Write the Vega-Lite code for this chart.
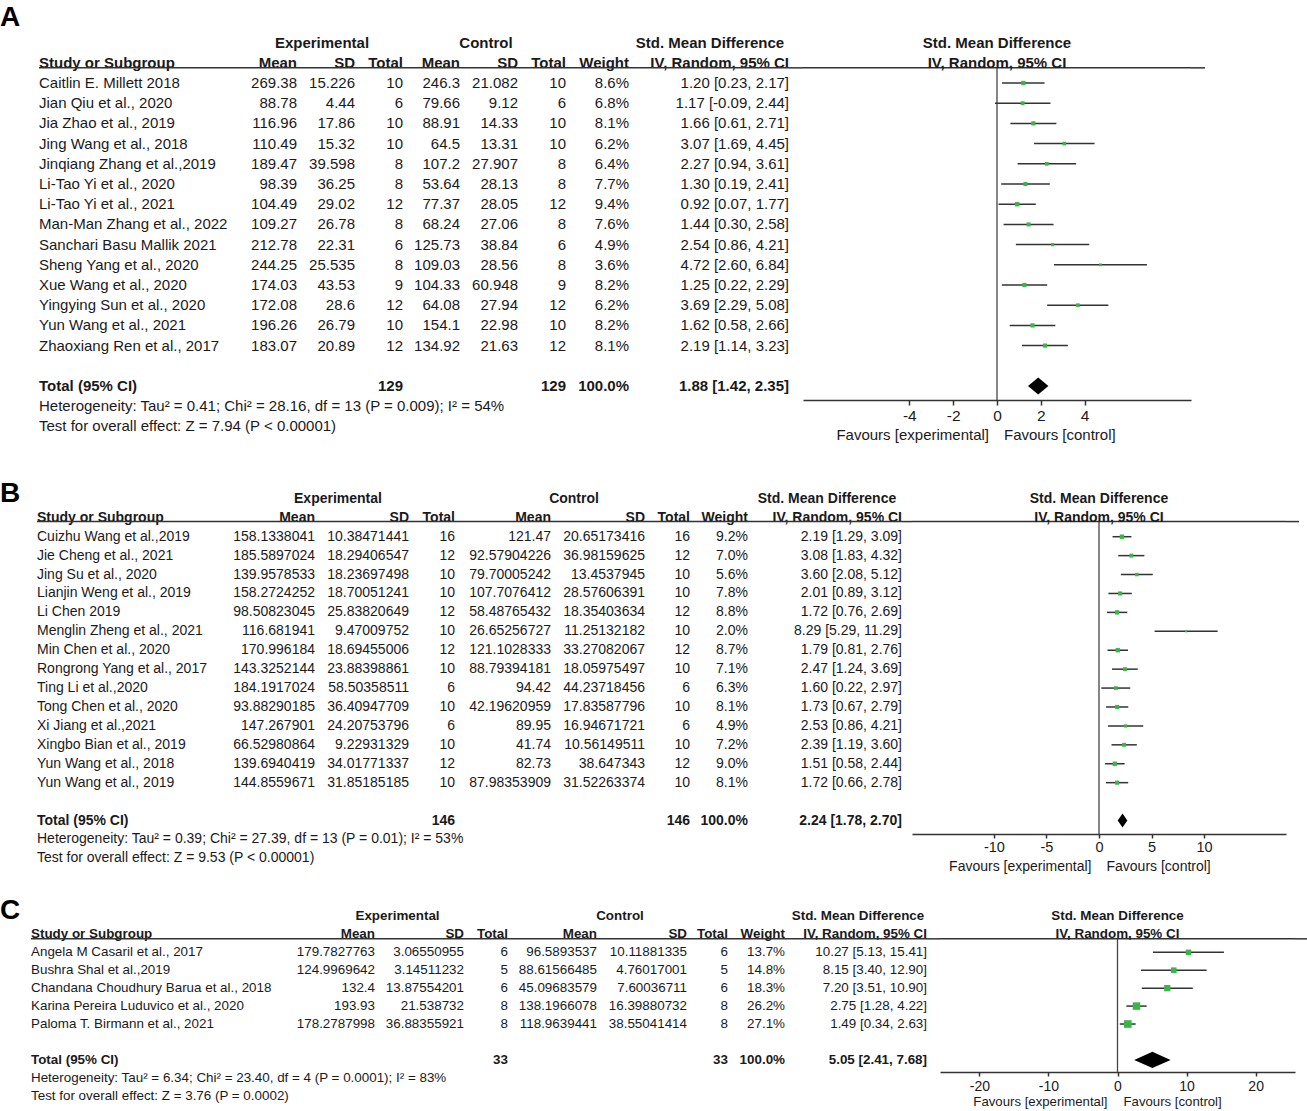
{
"$schema": "https://vega.github.io/schema/vega-lite/v6.json",
"padding": 0,
"background": "white",
"spacing": 0,
"config": {
  "view": {"stroke": null},
  "text": {"font": "Liberation Sans", "color": "#1a1a1a", "baseline": "middle"},
  "axis": {"labelFont": "Liberation Sans", "labelColor": "#1a1a1a", "grid": false}
},
"datasets": {
  "head": [
    {"col": "study", "row": -1, "text": "Study or Subgroup"},
    {"col": "me", "row": -1, "text": "Mean"},
    {"col": "se", "row": -1, "text": "SD"},
    {"col": "ne", "row": -1, "text": "Total"},
    {"col": "mc", "row": -1, "text": "Mean"},
    {"col": "sc", "row": -1, "text": "SD"},
    {"col": "nc", "row": -1, "text": "Total"},
    {"col": "w", "row": -1, "text": "Weight"},
    {"col": "ci", "row": -1, "text": "IV, Random, 95% CI"}
  ],
  "grp": [
    {"col": "se", "row": -2, "text": "Experimental"},
    {"col": "sc", "row": -2, "text": "Control"},
    {"col": "ci", "row": -2, "text": "Std. Mean Difference"},
    {"col": "forest", "row": -2, "text": "Std. Mean Difference"},
    {"col": "forest", "row": -1, "text": "IV, Random, 95% CI"}
  ],
  "A": [
    {"row": 0, "study": "Caitlin E. Millett 2018", "me": 269.38, "se": 15.226, "ne": 10, "mc": 246.3, "sc": 21.082, "nc": 10, "w": 0.086, "smd": 1.20, "lo": 0.23, "hi": 2.17, "ci": "1.20 [0.23, 2.17]"},
    {"row": 1, "study": "Jian Qiu  et al., 2020", "me": 88.78, "se": 4.44, "ne": 6, "mc": 79.66, "sc": 9.12, "nc": 6, "w": 0.068, "smd": 1.17, "lo": -0.09, "hi": 2.44, "ci": "1.17 [-0.09, 2.44]"},
    {"row": 2, "study": "Jia Zhao et al., 2019", "me": 116.96, "se": 17.86, "ne": 10, "mc": 88.91, "sc": 14.33, "nc": 10, "w": 0.081, "smd": 1.66, "lo": 0.61, "hi": 2.71, "ci": "1.66 [0.61, 2.71]"},
    {"row": 3, "study": "Jing Wang et al., 2018", "me": 110.49, "se": 15.32, "ne": 10, "mc": 64.5, "sc": 13.31, "nc": 10, "w": 0.062, "smd": 3.07, "lo": 1.69, "hi": 4.45, "ci": "3.07 [1.69, 4.45]"},
    {"row": 4, "study": "Jinqiang Zhang  et al.,2019", "me": 189.47, "se": 39.598, "ne": 8, "mc": 107.2, "sc": 27.907, "nc": 8, "w": 0.064, "smd": 2.27, "lo": 0.94, "hi": 3.61, "ci": "2.27 [0.94, 3.61]"},
    {"row": 5, "study": "Li-Tao Yi et al., 2020", "me": 98.39, "se": 36.25, "ne": 8, "mc": 53.64, "sc": 28.13, "nc": 8, "w": 0.077, "smd": 1.30, "lo": 0.19, "hi": 2.41, "ci": "1.30 [0.19, 2.41]"},
    {"row": 6, "study": "Li-Tao Yi et al., 2021", "me": 104.49, "se": 29.02, "ne": 12, "mc": 77.37, "sc": 28.05, "nc": 12, "w": 0.094, "smd": 0.92, "lo": 0.07, "hi": 1.77, "ci": "0.92 [0.07, 1.77]"},
    {"row": 7, "study": "Man-Man Zhang et al., 2022", "me": 109.27, "se": 26.78, "ne": 8, "mc": 68.24, "sc": 27.06, "nc": 8, "w": 0.076, "smd": 1.44, "lo": 0.30, "hi": 2.58, "ci": "1.44 [0.30, 2.58]"},
    {"row": 8, "study": "Sanchari Basu Mallik 2021", "me": 212.78, "se": 22.31, "ne": 6, "mc": 125.73, "sc": 38.84, "nc": 6, "w": 0.049, "smd": 2.54, "lo": 0.86, "hi": 4.21, "ci": "2.54 [0.86, 4.21]"},
    {"row": 9, "study": "Sheng Yang  et al., 2020", "me": 244.25, "se": 25.535, "ne": 8, "mc": 109.03, "sc": 28.56, "nc": 8, "w": 0.036, "smd": 4.72, "lo": 2.60, "hi": 6.84, "ci": "4.72 [2.60, 6.84]"},
    {"row": 10, "study": "Xue Wang  et al., 2020", "me": 174.03, "se": 43.53, "ne": 9, "mc": 104.33, "sc": 60.948, "nc": 9, "w": 0.082, "smd": 1.25, "lo": 0.22, "hi": 2.29, "ci": "1.25 [0.22, 2.29]"},
    {"row": 11, "study": "Yingying Sun et al., 2020", "me": 172.08, "se": 28.6, "ne": 12, "mc": 64.08, "sc": 27.94, "nc": 12, "w": 0.062, "smd": 3.69, "lo": 2.29, "hi": 5.08, "ci": "3.69 [2.29, 5.08]"},
    {"row": 12, "study": "Yun Wang  et al., 2021", "me": 196.26, "se": 26.79, "ne": 10, "mc": 154.1, "sc": 22.98, "nc": 10, "w": 0.082, "smd": 1.62, "lo": 0.58, "hi": 2.66, "ci": "1.62 [0.58, 2.66]"},
    {"row": 13, "study": "Zhaoxiang Ren et al., 2017", "me": 183.07, "se": 20.89, "ne": 12, "mc": 134.92, "sc": 21.63, "nc": 12, "w": 0.081, "smd": 2.19, "lo": 1.14, "hi": 3.23, "ci": "2.19 [1.14, 3.23]"}
  ],
  "A_total": [{"row": 15, "label": "Total (95% CI)", "ne": 129, "nc": 129, "w": 1, "smd": 1.88, "lo": 1.42, "hi": 2.35, "ci": "1.88 [1.42, 2.35]"}],
  "A_notes": [
    {"row": 16, "text": "Heterogeneity: Tau² = 0.41; Chi² = 28.16, df = 13 (P = 0.009); I² = 54%"},
    {"row": 17, "text": "Test for overall effect: Z = 7.94 (P < 0.00001)"}
  ],
  "B": [
    {"row": 0, "study": "Cuizhu Wang  et al.,2019", "me": 158.1338041, "se": 10.38471441, "ne": 16, "mc": 121.47, "sc": 20.65173416, "nc": 16, "w": 0.092, "smd": 2.19, "lo": 1.29, "hi": 3.09, "ci": "2.19 [1.29, 3.09]"},
    {"row": 1, "study": "Jie Cheng et al., 2021", "me": 185.5897024, "se": 18.29406547, "ne": 12, "mc": 92.57904226, "sc": 36.98159625, "nc": 12, "w": 0.070, "smd": 3.08, "lo": 1.83, "hi": 4.32, "ci": "3.08 [1.83, 4.32]"},
    {"row": 2, "study": "Jing Su et al., 2020", "me": 139.9578533, "se": 18.23697498, "ne": 10, "mc": 79.70005242, "sc": 13.4537945, "nc": 10, "w": 0.056, "smd": 3.60, "lo": 2.08, "hi": 5.12, "ci": "3.60 [2.08, 5.12]"},
    {"row": 3, "study": "Lianjin Weng et al., 2019", "me": 158.2724252, "se": 18.70051241, "ne": 10, "mc": 107.7076412, "sc": 28.57606391, "nc": 10, "w": 0.078, "smd": 2.01, "lo": 0.89, "hi": 3.12, "ci": "2.01 [0.89, 3.12]"},
    {"row": 4, "study": "Li Chen 2019", "me": 98.50823045, "se": 25.83820649, "ne": 12, "mc": 58.48765432, "sc": 18.35403634, "nc": 12, "w": 0.088, "smd": 1.72, "lo": 0.76, "hi": 2.69, "ci": "1.72 [0.76, 2.69]"},
    {"row": 5, "study": "Menglin Zheng et al., 2021", "me": 116.681941, "se": 9.47009752, "ne": 10, "mc": 26.65256727, "sc": 11.25132182, "nc": 10, "w": 0.020, "smd": 8.29, "lo": 5.29, "hi": 11.29, "ci": "8.29 [5.29, 11.29]"},
    {"row": 6, "study": "Min Chen et al., 2020", "me": 170.996184, "se": 18.69455006, "ne": 12, "mc": 121.1028333, "sc": 33.27082067, "nc": 12, "w": 0.087, "smd": 1.79, "lo": 0.81, "hi": 2.76, "ci": "1.79 [0.81, 2.76]"},
    {"row": 7, "study": "Rongrong Yang et al., 2017", "me": 143.3252144, "se": 23.88398861, "ne": 10, "mc": 88.79394181, "sc": 18.05975497, "nc": 10, "w": 0.071, "smd": 2.47, "lo": 1.24, "hi": 3.69, "ci": "2.47 [1.24, 3.69]"},
    {"row": 8, "study": "Ting Li  et al.,2020", "me": 184.1917024, "se": 58.50358511, "ne": 6, "mc": 94.42, "sc": 44.23718456, "nc": 6, "w": 0.063, "smd": 1.60, "lo": 0.22, "hi": 2.97, "ci": "1.60 [0.22, 2.97]"},
    {"row": 9, "study": "Tong Chen et al., 2020", "me": 93.88290185, "se": 36.40947709, "ne": 10, "mc": 42.19620959, "sc": 17.83587796, "nc": 10, "w": 0.081, "smd": 1.73, "lo": 0.67, "hi": 2.79, "ci": "1.73 [0.67, 2.79]"},
    {"row": 10, "study": "Xi Jiang  et al.,2021", "me": 147.267901, "se": 24.20753796, "ne": 6, "mc": 89.95, "sc": 16.94671721, "nc": 6, "w": 0.049, "smd": 2.53, "lo": 0.86, "hi": 4.21, "ci": "2.53 [0.86, 4.21]"},
    {"row": 11, "study": "Xingbo Bian  et al., 2019", "me": 66.52980864, "se": 9.22931329, "ne": 10, "mc": 41.74, "sc": 10.56149511, "nc": 10, "w": 0.072, "smd": 2.39, "lo": 1.19, "hi": 3.60, "ci": "2.39 [1.19, 3.60]"},
    {"row": 12, "study": "Yun Wang et al., 2018", "me": 139.6940419, "se": 34.01771337, "ne": 12, "mc": 82.73, "sc": 38.647343, "nc": 12, "w": 0.090, "smd": 1.51, "lo": 0.58, "hi": 2.44, "ci": "1.51 [0.58, 2.44]"},
    {"row": 13, "study": "Yun Wang  et al., 2019", "me": 144.8559671, "se": 31.85185185, "ne": 10, "mc": 87.98353909, "sc": 31.52263374, "nc": 10, "w": 0.081, "smd": 1.72, "lo": 0.66, "hi": 2.78, "ci": "1.72 [0.66, 2.78]"}
  ],
  "B_total": [{"row": 15, "label": "Total (95% CI)", "ne": 146, "nc": 146, "w": 1, "smd": 2.24, "lo": 1.78, "hi": 2.70, "ci": "2.24 [1.78, 2.70]"}],
  "B_notes": [
    {"row": 16, "text": "Heterogeneity: Tau² = 0.39; Chi² = 27.39, df = 13 (P = 0.01); I² = 53%"},
    {"row": 17, "text": "Test for overall effect: Z = 9.53 (P < 0.00001)"}
  ],
  "C": [
    {"row": 0, "study": "Angela M Casaril et al., 2017", "me": 179.7827763, "se": 3.06550955, "ne": 6, "mc": 96.5893537, "sc": 10.11881335, "nc": 6, "w": 0.137, "smd": 10.27, "lo": 5.13, "hi": 15.41, "ci": "10.27 [5.13, 15.41]"},
    {"row": 1, "study": "Bushra Shal et al.,2019", "me": 124.9969642, "se": 3.14511232, "ne": 5, "mc": 88.61566485, "sc": 4.76017001, "nc": 5, "w": 0.148, "smd": 8.15, "lo": 3.40, "hi": 12.90, "ci": "8.15 [3.40, 12.90]"},
    {"row": 2, "study": "Chandana Choudhury Barua  et al., 2018", "me": 132.4, "se": 13.87554201, "ne": 6, "mc": 45.09683579, "sc": 7.60036711, "nc": 6, "w": 0.183, "smd": 7.20, "lo": 3.51, "hi": 10.90, "ci": "7.20 [3.51, 10.90]"},
    {"row": 3, "study": "Karina Pereira Luduvico et al., 2020", "me": 193.93, "se": 21.538732, "ne": 8, "mc": 138.1966078, "sc": 16.39880732, "nc": 8, "w": 0.262, "smd": 2.75, "lo": 1.28, "hi": 4.22, "ci": "2.75 [1.28, 4.22]"},
    {"row": 4, "study": "Paloma T. Birmann  et al., 2021", "me": 178.2787998, "se": 36.88355921, "ne": 8, "mc": 118.9639441, "sc": 38.55041414, "nc": 8, "w": 0.271, "smd": 1.49, "lo": 0.34, "hi": 2.63, "ci": "1.49 [0.34, 2.63]"}
  ],
  "C_total": [{"row": 6, "label": "Total (95% CI)", "ne": 33, "nc": 33, "w": 1, "smd": 5.05, "lo": 2.41, "hi": 7.68, "ci": "5.05 [2.41, 7.68]"}],
  "C_notes": [
    {"row": 7, "text": "Heterogeneity: Tau² = 6.34; Chi² = 23.40, df = 4 (P = 0.0001); I² = 83%"},
    {"row": 8, "text": "Test for overall effect: Z = 3.76 (P = 0.0002)"}
  ]
},
"vconcat": [
{
  "spacing": 0, "bounds": "flush",
  "hconcat": [
    {"width": 39, "height": 445, "data": {"values": [{}]}, "mark": {"type": "text", "align": "left", "fontSize": 28, "fontWeight": "bold", "color": "#000"},
     "encoding": {"x": {"datum": "c", "type": "nominal", "scale": {"type": "point", "padding": 0, "align": 0}, "axis": null}, "y": {"datum": -3.2, "type": "quantitative", "scale": {"domain": [-4.109, 17.921], "reverse": true, "nice": false, "zero": false}, "axis": null}, "text": {"value": "A"}}},
    {"width": 200, "height": 445,
     "layer": [
      {"data": {"name": "A"}, "mark": {"type": "text", "align": "left", "fontSize": 15}, "encoding": {"y": {"field": "row", "type": "quantitative", "scale": {"domain": [-4.109, 17.921], "reverse": true, "nice": false, "zero": false}, "axis": null}, "x": {"datum": "c", "type": "nominal", "scale": {"type": "point", "padding": 0, "align": 0}, "axis": null}, "text": {"field": "study", "type": "nominal"}}},
      {"data": {"name": "head"}, "transform": [{"filter": "datum.col === 'study'"}], "mark": {"type": "text", "align": "left", "fontSize": 15, "fontWeight": "bold"}, "encoding": {"y": {"field": "row", "type": "quantitative", "scale": {"domain": [-4.109, 17.921], "reverse": true, "nice": false, "zero": false}, "axis": null}, "x": {"datum": "c", "type": "nominal", "scale": {"type": "point", "padding": 0, "align": 0}, "axis": null}, "text": {"field": "text", "type": "nominal"}}},
      {"data": {"name": "A_total"}, "mark": {"type": "text", "align": "left", "fontSize": 15, "fontWeight": "bold"}, "encoding": {"y": {"field": "row", "type": "quantitative", "scale": {"domain": [-4.109, 17.921], "reverse": true, "nice": false, "zero": false}, "axis": null}, "x": {"datum": "c", "type": "nominal", "scale": {"type": "point", "padding": 0, "align": 0}, "axis": null}, "text": {"field": "label", "type": "nominal"}}},
      {"data": {"name": "A_notes"}, "mark": {"type": "text", "align": "left", "fontSize": 15}, "encoding": {"y": {"field": "row", "type": "quantitative", "scale": {"domain": [-4.109, 17.921], "reverse": true, "nice": false, "zero": false}, "axis": null}, "x": {"datum": "c", "type": "nominal", "scale": {"type": "point", "padding": 0, "align": 0}, "axis": null}, "text": {"field": "text", "type": "nominal"}}},
      {"data": {"values": [{}]}, "mark": {"type": "rule", "color": "#333", "strokeWidth": 1.5}, "encoding": {"y": {"datum": -0.75, "type": "quantitative", "scale": {"domain": [-4.109, 17.921], "reverse": true, "nice": false, "zero": false}, "axis": null}}}
     ]},
    {"width": 58, "height": 445,
     "layer": [
      {"data": {"name": "A"}, "mark": {"type": "text", "align": "right", "fontSize": 15}, "encoding": {"y": {"field": "row", "type": "quantitative", "scale": {"domain": [-4.109, 17.921], "reverse": true, "nice": false, "zero": false}, "axis": null}, "x": {"datum": "c", "type": "nominal", "scale": {"type": "point", "padding": 0, "align": 1}, "axis": null}, "text": {"field": "me", "type": "nominal"}}},
      {"data": {"name": "head"}, "transform": [{"filter": "datum.col === 'me'"}], "mark": {"type": "text", "align": "right", "fontSize": 15, "fontWeight": "bold"}, "encoding": {"y": {"field": "row", "type": "quantitative", "scale": {"domain": [-4.109, 17.921], "reverse": true, "nice": false, "zero": false}, "axis": null}, "x": {"datum": "c", "type": "nominal", "scale": {"type": "point", "padding": 0, "align": 1}, "axis": null}, "text": {"field": "text", "type": "nominal"}}},
      {"data": {"values": [{}]}, "mark": {"type": "rule", "color": "#333", "strokeWidth": 1.5}, "encoding": {"y": {"datum": -0.75, "type": "quantitative", "scale": {"domain": [-4.109, 17.921], "reverse": true, "nice": false, "zero": false}, "axis": null}}}
     ]},
    {"width": 58, "height": 445,
     "layer": [
      {"data": {"name": "A"}, "mark": {"type": "text", "align": "right", "fontSize": 15}, "encoding": {"y": {"field": "row", "type": "quantitative", "scale": {"domain": [-4.109, 17.921], "reverse": true, "nice": false, "zero": false}, "axis": null}, "x": {"datum": "c", "type": "nominal", "scale": {"type": "point", "padding": 0, "align": 1}, "axis": null}, "text": {"field": "se", "type": "nominal"}}},
      {"data": {"name": "head"}, "transform": [{"filter": "datum.col === 'se'"}], "mark": {"type": "text", "align": "right", "fontSize": 15, "fontWeight": "bold"}, "encoding": {"y": {"field": "row", "type": "quantitative", "scale": {"domain": [-4.109, 17.921], "reverse": true, "nice": false, "zero": false}, "axis": null}, "x": {"datum": "c", "type": "nominal", "scale": {"type": "point", "padding": 0, "align": 1}, "axis": null}, "text": {"field": "text", "type": "nominal"}}},
      {"data": {"name": "grp"}, "transform": [{"filter": "datum.col === 'se'"}], "mark": {"type": "text", "align": "center", "fontSize": 15, "fontWeight": "bold", "dx": -4}, "encoding": {"y": {"field": "row", "type": "quantitative", "scale": {"domain": [-4.109, 17.921], "reverse": true, "nice": false, "zero": false}, "axis": null}, "text": {"field": "text", "type": "nominal"}}},
      {"data": {"values": [{}]}, "mark": {"type": "rule", "color": "#333", "strokeWidth": 1.5}, "encoding": {"y": {"datum": -0.75, "type": "quantitative", "scale": {"domain": [-4.109, 17.921], "reverse": true, "nice": false, "zero": false}, "axis": null}}}
     ]},
    {"width": 48, "height": 445,
     "layer": [
      {"data": {"name": "A"}, "mark": {"type": "text", "align": "right", "fontSize": 15}, "encoding": {"y": {"field": "row", "type": "quantitative", "scale": {"domain": [-4.109, 17.921], "reverse": true, "nice": false, "zero": false}, "axis": null}, "x": {"datum": "c", "type": "nominal", "scale": {"type": "point", "padding": 0, "align": 1}, "axis": null}, "text": {"field": "ne", "type": "nominal"}}},
      {"data": {"name": "head"}, "transform": [{"filter": "datum.col === 'ne'"}], "mark": {"type": "text", "align": "right", "fontSize": 15, "fontWeight": "bold"}, "encoding": {"y": {"field": "row", "type": "quantitative", "scale": {"domain": [-4.109, 17.921], "reverse": true, "nice": false, "zero": false}, "axis": null}, "x": {"datum": "c", "type": "nominal", "scale": {"type": "point", "padding": 0, "align": 1}, "axis": null}, "text": {"field": "text", "type": "nominal"}}},
      {"data": {"name": "A_total"}, "mark": {"type": "text", "align": "right", "fontSize": 15, "fontWeight": "bold"}, "encoding": {"y": {"field": "row", "type": "quantitative", "scale": {"domain": [-4.109, 17.921], "reverse": true, "nice": false, "zero": false}, "axis": null}, "x": {"datum": "c", "type": "nominal", "scale": {"type": "point", "padding": 0, "align": 1}, "axis": null}, "text": {"field": "ne", "type": "nominal"}}},
      {"data": {"values": [{}]}, "mark": {"type": "rule", "color": "#333", "strokeWidth": 1.5}, "encoding": {"y": {"datum": -0.75, "type": "quantitative", "scale": {"domain": [-4.109, 17.921], "reverse": true, "nice": false, "zero": false}, "axis": null}}}
     ]},
    {"width": 57, "height": 445,
     "layer": [
      {"data": {"name": "A"}, "mark": {"type": "text", "align": "right", "fontSize": 15}, "encoding": {"y": {"field": "row", "type": "quantitative", "scale": {"domain": [-4.109, 17.921], "reverse": true, "nice": false, "zero": false}, "axis": null}, "x": {"datum": "c", "type": "nominal", "scale": {"type": "point", "padding": 0, "align": 1}, "axis": null}, "text": {"field": "mc", "type": "nominal"}}},
      {"data": {"name": "head"}, "transform": [{"filter": "datum.col === 'mc'"}], "mark": {"type": "text", "align": "right", "fontSize": 15, "fontWeight": "bold"}, "encoding": {"y": {"field": "row", "type": "quantitative", "scale": {"domain": [-4.109, 17.921], "reverse": true, "nice": false, "zero": false}, "axis": null}, "x": {"datum": "c", "type": "nominal", "scale": {"type": "point", "padding": 0, "align": 1}, "axis": null}, "text": {"field": "text", "type": "nominal"}}},
      {"data": {"values": [{}]}, "mark": {"type": "rule", "color": "#333", "strokeWidth": 1.5}, "encoding": {"y": {"datum": -0.75, "type": "quantitative", "scale": {"domain": [-4.109, 17.921], "reverse": true, "nice": false, "zero": false}, "axis": null}}}
     ]},
    {"width": 58, "height": 445,
     "layer": [
      {"data": {"name": "A"}, "mark": {"type": "text", "align": "right", "fontSize": 15}, "encoding": {"y": {"field": "row", "type": "quantitative", "scale": {"domain": [-4.109, 17.921], "reverse": true, "nice": false, "zero": false}, "axis": null}, "x": {"datum": "c", "type": "nominal", "scale": {"type": "point", "padding": 0, "align": 1}, "axis": null}, "text": {"field": "sc", "type": "nominal"}}},
      {"data": {"name": "head"}, "transform": [{"filter": "datum.col === 'sc'"}], "mark": {"type": "text", "align": "right", "fontSize": 15, "fontWeight": "bold"}, "encoding": {"y": {"field": "row", "type": "quantitative", "scale": {"domain": [-4.109, 17.921], "reverse": true, "nice": false, "zero": false}, "axis": null}, "x": {"datum": "c", "type": "nominal", "scale": {"type": "point", "padding": 0, "align": 1}, "axis": null}, "text": {"field": "text", "type": "nominal"}}},
      {"data": {"name": "grp"}, "transform": [{"filter": "datum.col === 'sc'"}], "mark": {"type": "text", "align": "center", "fontSize": 15, "fontWeight": "bold", "dx": -3}, "encoding": {"y": {"field": "row", "type": "quantitative", "scale": {"domain": [-4.109, 17.921], "reverse": true, "nice": false, "zero": false}, "axis": null}, "text": {"field": "text", "type": "nominal"}}},
      {"data": {"values": [{}]}, "mark": {"type": "rule", "color": "#333", "strokeWidth": 1.5}, "encoding": {"y": {"datum": -0.75, "type": "quantitative", "scale": {"domain": [-4.109, 17.921], "reverse": true, "nice": false, "zero": false}, "axis": null}}}
     ]},
    {"width": 48, "height": 445,
     "layer": [
      {"data": {"name": "A"}, "mark": {"type": "text", "align": "right", "fontSize": 15}, "encoding": {"y": {"field": "row", "type": "quantitative", "scale": {"domain": [-4.109, 17.921], "reverse": true, "nice": false, "zero": false}, "axis": null}, "x": {"datum": "c", "type": "nominal", "scale": {"type": "point", "padding": 0, "align": 1}, "axis": null}, "text": {"field": "nc", "type": "nominal"}}},
      {"data": {"name": "head"}, "transform": [{"filter": "datum.col === 'nc'"}], "mark": {"type": "text", "align": "right", "fontSize": 15, "fontWeight": "bold"}, "encoding": {"y": {"field": "row", "type": "quantitative", "scale": {"domain": [-4.109, 17.921], "reverse": true, "nice": false, "zero": false}, "axis": null}, "x": {"datum": "c", "type": "nominal", "scale": {"type": "point", "padding": 0, "align": 1}, "axis": null}, "text": {"field": "text", "type": "nominal"}}},
      {"data": {"name": "A_total"}, "mark": {"type": "text", "align": "right", "fontSize": 15, "fontWeight": "bold"}, "encoding": {"y": {"field": "row", "type": "quantitative", "scale": {"domain": [-4.109, 17.921], "reverse": true, "nice": false, "zero": false}, "axis": null}, "x": {"datum": "c", "type": "nominal", "scale": {"type": "point", "padding": 0, "align": 1}, "axis": null}, "text": {"field": "nc", "type": "nominal"}}},
      {"data": {"values": [{}]}, "mark": {"type": "rule", "color": "#333", "strokeWidth": 1.5}, "encoding": {"y": {"datum": -0.75, "type": "quantitative", "scale": {"domain": [-4.109, 17.921], "reverse": true, "nice": false, "zero": false}, "axis": null}}}
     ]},
    {"width": 63, "height": 445,
     "layer": [
      {"data": {"name": "A"}, "mark": {"type": "text", "align": "right", "fontSize": 15}, "encoding": {"y": {"field": "row", "type": "quantitative", "scale": {"domain": [-4.109, 17.921], "reverse": true, "nice": false, "zero": false}, "axis": null}, "x": {"datum": "c", "type": "nominal", "scale": {"type": "point", "padding": 0, "align": 1}, "axis": null}, "text": {"field": "w", "type": "quantitative", "format": ".1%"}}},
      {"data": {"name": "head"}, "transform": [{"filter": "datum.col === 'w'"}], "mark": {"type": "text", "align": "right", "fontSize": 15, "fontWeight": "bold"}, "encoding": {"y": {"field": "row", "type": "quantitative", "scale": {"domain": [-4.109, 17.921], "reverse": true, "nice": false, "zero": false}, "axis": null}, "x": {"datum": "c", "type": "nominal", "scale": {"type": "point", "padding": 0, "align": 1}, "axis": null}, "text": {"field": "text", "type": "nominal"}}},
      {"data": {"name": "A_total"}, "mark": {"type": "text", "align": "right", "fontSize": 15, "fontWeight": "bold"}, "encoding": {"y": {"field": "row", "type": "quantitative", "scale": {"domain": [-4.109, 17.921], "reverse": true, "nice": false, "zero": false}, "axis": null}, "x": {"datum": "c", "type": "nominal", "scale": {"type": "point", "padding": 0, "align": 1}, "axis": null}, "text": {"field": "w", "type": "quantitative", "format": ".1%"}}},
      {"data": {"values": [{}]}, "mark": {"type": "rule", "color": "#333", "strokeWidth": 1.5}, "encoding": {"y": {"datum": -0.75, "type": "quantitative", "scale": {"domain": [-4.109, 17.921], "reverse": true, "nice": false, "zero": false}, "axis": null}}}
     ]},
    {"width": 160, "height": 445,
     "layer": [
      {"data": {"name": "A"}, "mark": {"type": "text", "align": "right", "fontSize": 15}, "encoding": {"y": {"field": "row", "type": "quantitative", "scale": {"domain": [-4.109, 17.921], "reverse": true, "nice": false, "zero": false}, "axis": null}, "x": {"datum": "c", "type": "nominal", "scale": {"type": "point", "padding": 0, "align": 1}, "axis": null}, "text": {"field": "ci", "type": "nominal"}}},
      {"data": {"name": "head"}, "transform": [{"filter": "datum.col === 'ci'"}], "mark": {"type": "text", "align": "right", "fontSize": 15, "fontWeight": "bold"}, "encoding": {"y": {"field": "row", "type": "quantitative", "scale": {"domain": [-4.109, 17.921], "reverse": true, "nice": false, "zero": false}, "axis": null}, "x": {"datum": "c", "type": "nominal", "scale": {"type": "point", "padding": 0, "align": 1}, "axis": null}, "text": {"field": "text", "type": "nominal"}}},
      {"data": {"name": "A_total"}, "mark": {"type": "text", "align": "right", "fontSize": 15, "fontWeight": "bold"}, "encoding": {"y": {"field": "row", "type": "quantitative", "scale": {"domain": [-4.109, 17.921], "reverse": true, "nice": false, "zero": false}, "axis": null}, "x": {"datum": "c", "type": "nominal", "scale": {"type": "point", "padding": 0, "align": 1}, "axis": null}, "text": {"field": "ci", "type": "nominal"}}},
      {"data": {"name": "grp"}, "transform": [{"filter": "datum.col === 'ci'"}], "mark": {"type": "text", "align": "center", "fontSize": 15, "fontWeight": "bold", "dx": 1}, "encoding": {"y": {"field": "row", "type": "quantitative", "scale": {"domain": [-4.109, 17.921], "reverse": true, "nice": false, "zero": false}, "axis": null}, "text": {"field": "text", "type": "nominal"}}},
      {"data": {"values": [{}]}, "mark": {"type": "rule", "color": "#333", "strokeWidth": 1.5}, "encoding": {"y": {"datum": -0.75, "type": "quantitative", "scale": {"domain": [-4.109, 17.921], "reverse": true, "nice": false, "zero": false}, "axis": null}}}
     ]},
    {"width": 14, "height": 445, "data": {"values": [{}]}, "mark": {"type": "rule", "color": "#333", "strokeWidth": 1.5},
     "encoding": {"y": {"datum": -0.75, "type": "quantitative", "scale": {"domain": [-4.109, 17.921], "reverse": true, "nice": false, "zero": false}, "axis": null}}},
    {"width": 388, "height": 445,
     "layer": [
      {"data": {"values": [{}]}, "mark": {"type": "rule", "color": "#333", "strokeWidth": 1.5}, "encoding": {"y": {"datum": -0.75, "type": "quantitative", "scale": {"domain": [-4.109, 17.921], "reverse": true, "nice": false, "zero": false}, "axis": null}}},
      {"data": {"values": [{}]}, "mark": {"type": "rule", "color": "#444", "strokeWidth": 1.3},
       "encoding": {"x": {"datum": 0, "type": "quantitative", "scale": {"domain": [-8.85, 8.85], "nice": false, "zero": false},
                          "axis": {"values": [-4, -2, 0, 2, 4], "title": null, "offset": -45, "domain": true, "domainWidth": 1.5, "domainColor": "#333", "ticks": true, "tickSize": 5, "tickWidth": 1.5, "tickColor": "#333", "labelFontSize": 15.5, "labelPadding": 3, "labelFlush": false, "labelOverlap": false, "grid": false, "labelExpr": "replace(datum.label, '−', '-')"}},
                    "y": {"datum": -0.75, "type": "quantitative", "scale": {"domain": [-4.109, 17.921], "reverse": true, "nice": false, "zero": false}, "axis": null},
                    "y2": {"datum": 15.693}}},
      {"data": {"name": "A"}, "mark": {"type": "rule", "color": "#333", "strokeWidth": 1.5}, "encoding": {"y": {"field": "row", "type": "quantitative", "scale": {"domain": [-4.109, 17.921], "reverse": true, "nice": false, "zero": false}, "axis": null}, "x": {"field": "lo", "type": "quantitative", "scale": {"domain": [-8.85, 8.85], "nice": false, "zero": false}, "axis": {"values": [-4, -2, 0, 2, 4], "title": null, "offset": -45, "domain": true, "domainWidth": 1.5, "domainColor": "#333", "ticks": true, "tickSize": 5, "tickWidth": 1.5, "tickColor": "#333", "labelFontSize": 15.5, "labelPadding": 3, "labelFlush": false, "labelOverlap": false, "grid": false, "labelExpr": "replace(datum.label, '−', '-')"}}, "x2": {"field": "hi"}}},
      {"data": {"name": "A"}, "mark": {"type": "point", "shape": "square", "filled": true, "opacity": 1, "color": "#3bb54a"}, "encoding": {"y": {"field": "row", "type": "quantitative", "scale": {"domain": [-4.109, 17.921], "reverse": true, "nice": false, "zero": false}, "axis": null}, "x": {"field": "smd", "type": "quantitative", "scale": {"domain": [-8.85, 8.85], "nice": false, "zero": false}, "axis": {"values": [-4, -2, 0, 2, 4], "title": null, "offset": -45, "domain": true, "domainWidth": 1.5, "domainColor": "#333", "ticks": true, "tickSize": 5, "tickWidth": 1.5, "tickColor": "#333", "labelFontSize": 15.5, "labelPadding": 3, "labelFlush": false, "labelOverlap": false, "grid": false, "labelExpr": "replace(datum.label, '−', '-')"}}, "size": {"field": "w", "type": "quantitative", "scale": {"domain": [0, 0.3], "range": [0, 65]}, "legend": null}}},
      {"data": {"name": "A_total"}, "mark": {"type": "point", "shape": "M-1,0L0,-0.833L1,0L0,0.833Z", "filled": true, "opacity": 1, "color": "#000", "size": 416}, "encoding": {"y": {"field": "row", "type": "quantitative", "scale": {"domain": [-4.109, 17.921], "reverse": true, "nice": false, "zero": false}, "axis": null}, "x": {"field": "smd", "type": "quantitative", "scale": {"domain": [-8.85, 8.85], "nice": false, "zero": false}, "axis": {"values": [-4, -2, 0, 2, 4], "title": null, "offset": -45, "domain": true, "domainWidth": 1.5, "domainColor": "#333", "ticks": true, "tickSize": 5, "tickWidth": 1.5, "tickColor": "#333", "labelFontSize": 15.5, "labelPadding": 3, "labelFlush": false, "labelOverlap": false, "grid": false, "labelExpr": "replace(datum.label, '−', '-')"}}}},
      {"data": {"name": "grp"}, "transform": [{"filter": "datum.col === 'forest'"}], "mark": {"type": "text", "align": "center", "fontSize": 15, "fontWeight": "bold"}, "encoding": {"y": {"field": "row", "type": "quantitative", "scale": {"domain": [-4.109, 17.921], "reverse": true, "nice": false, "zero": false}, "axis": null}, "text": {"field": "text", "type": "nominal"}}},
      {"data": {"values": [{}]}, "mark": {"type": "text", "align": "right", "dx": -8, "fontSize": 15}, "encoding": {"x": {"datum": 0, "type": "quantitative", "scale": {"domain": [-8.85, 8.85], "nice": false, "zero": false}, "axis": {"values": [-4, -2, 0, 2, 4], "title": null, "offset": -45, "domain": true, "domainWidth": 1.5, "domainColor": "#333", "ticks": true, "tickSize": 5, "tickWidth": 1.5, "tickColor": "#333", "labelFontSize": 15.5, "labelPadding": 3, "labelFlush": false, "labelOverlap": false, "grid": false, "labelExpr": "replace(datum.label, '−', '-')"}}, "y": {"datum": 17.43, "type": "quantitative", "scale": {"domain": [-4.109, 17.921], "reverse": true, "nice": false, "zero": false}, "axis": null}, "text": {"value": "Favours [experimental]"}}},
      {"data": {"values": [{}]}, "mark": {"type": "text", "align": "left", "dx": 7, "fontSize": 15}, "encoding": {"x": {"datum": 0, "type": "quantitative", "scale": {"domain": [-8.85, 8.85], "nice": false, "zero": false}, "axis": {"values": [-4, -2, 0, 2, 4], "title": null, "offset": -45, "domain": true, "domainWidth": 1.5, "domainColor": "#333", "ticks": true, "tickSize": 5, "tickWidth": 1.5, "tickColor": "#333", "labelFontSize": 15.5, "labelPadding": 3, "labelFlush": false, "labelOverlap": false, "grid": false, "labelExpr": "replace(datum.label, '−', '-')"}}, "y": {"datum": 17.43, "type": "quantitative", "scale": {"domain": [-4.109, 17.921], "reverse": true, "nice": false, "zero": false}, "axis": null}, "text": {"value": "Favours [control]"}}}
     ]},
    {"width": 14, "height": 445, "data": {"values": [{}]}, "mark": {"type": "rule", "color": "#333", "strokeWidth": 1.5},
     "encoding": {"y": {"datum": -0.75, "type": "quantitative", "scale": {"domain": [-4.109, 17.921], "reverse": true, "nice": false, "zero": false}, "axis": null}}}
  ]
},
{
  "spacing": 0, "bounds": "flush",
  "hconcat": [
    {"width": 37, "height": 431, "data": {"values": [{}]}, "mark": {"type": "text", "align": "left", "fontSize": 28, "fontWeight": "bold", "color": "#000"},
     "encoding": {"x": {"datum": "c", "type": "nominal", "scale": {"type": "point", "padding": 0, "align": 0}, "axis": null}, "y": {"datum": -2.25, "type": "quantitative", "scale": {"domain": [-4.847, 17.933], "reverse": true, "nice": false, "zero": false}, "axis": null}, "text": {"value": "B"}}},
    {"width": 196, "height": 431,
     "layer": [
      {"data": {"name": "B"}, "mark": {"type": "text", "align": "left", "fontSize": 14}, "encoding": {"y": {"field": "row", "type": "quantitative", "scale": {"domain": [-4.847, 17.933], "reverse": true, "nice": false, "zero": false}, "axis": null}, "x": {"datum": "c", "type": "nominal", "scale": {"type": "point", "padding": 0, "align": 0}, "axis": null}, "text": {"field": "study", "type": "nominal"}}},
      {"data": {"name": "head"}, "transform": [{"filter": "datum.col === 'study'"}], "mark": {"type": "text", "align": "left", "fontSize": 14, "fontWeight": "bold"}, "encoding": {"y": {"field": "row", "type": "quantitative", "scale": {"domain": [-4.847, 17.933], "reverse": true, "nice": false, "zero": false}, "axis": null}, "x": {"datum": "c", "type": "nominal", "scale": {"type": "point", "padding": 0, "align": 0}, "axis": null}, "text": {"field": "text", "type": "nominal"}}},
      {"data": {"name": "B_total"}, "mark": {"type": "text", "align": "left", "fontSize": 14, "fontWeight": "bold"}, "encoding": {"y": {"field": "row", "type": "quantitative", "scale": {"domain": [-4.847, 17.933], "reverse": true, "nice": false, "zero": false}, "axis": null}, "x": {"datum": "c", "type": "nominal", "scale": {"type": "point", "padding": 0, "align": 0}, "axis": null}, "text": {"field": "label", "type": "nominal"}}},
      {"data": {"name": "B_notes"}, "mark": {"type": "text", "align": "left", "fontSize": 14}, "encoding": {"y": {"field": "row", "type": "quantitative", "scale": {"domain": [-4.847, 17.933], "reverse": true, "nice": false, "zero": false}, "axis": null}, "x": {"datum": "c", "type": "nominal", "scale": {"type": "point", "padding": 0, "align": 0}, "axis": null}, "text": {"field": "text", "type": "nominal"}}},
      {"data": {"values": [{}]}, "mark": {"type": "rule", "color": "#333", "strokeWidth": 1.5}, "encoding": {"y": {"datum": -0.8, "type": "quantitative", "scale": {"domain": [-4.847, 17.933], "reverse": true, "nice": false, "zero": false}, "axis": null}}}
     ]},
    {"width": 82, "height": 431,
     "layer": [
      {"data": {"name": "B"}, "mark": {"type": "text", "align": "right", "fontSize": 14}, "encoding": {"y": {"field": "row", "type": "quantitative", "scale": {"domain": [-4.847, 17.933], "reverse": true, "nice": false, "zero": false}, "axis": null}, "x": {"datum": "c", "type": "nominal", "scale": {"type": "point", "padding": 0, "align": 1}, "axis": null}, "text": {"field": "me", "type": "nominal"}}},
      {"data": {"name": "head"}, "transform": [{"filter": "datum.col === 'me'"}], "mark": {"type": "text", "align": "right", "fontSize": 14, "fontWeight": "bold"}, "encoding": {"y": {"field": "row", "type": "quantitative", "scale": {"domain": [-4.847, 17.933], "reverse": true, "nice": false, "zero": false}, "axis": null}, "x": {"datum": "c", "type": "nominal", "scale": {"type": "point", "padding": 0, "align": 1}, "axis": null}, "text": {"field": "text", "type": "nominal"}}},
      {"data": {"values": [{}]}, "mark": {"type": "rule", "color": "#333", "strokeWidth": 1.5}, "encoding": {"y": {"datum": -0.8, "type": "quantitative", "scale": {"domain": [-4.847, 17.933], "reverse": true, "nice": false, "zero": false}, "axis": null}}}
     ]},
    {"width": 94, "height": 431,
     "layer": [
      {"data": {"name": "B"}, "mark": {"type": "text", "align": "right", "fontSize": 14}, "encoding": {"y": {"field": "row", "type": "quantitative", "scale": {"domain": [-4.847, 17.933], "reverse": true, "nice": false, "zero": false}, "axis": null}, "x": {"datum": "c", "type": "nominal", "scale": {"type": "point", "padding": 0, "align": 1}, "axis": null}, "text": {"field": "se", "type": "nominal"}}},
      {"data": {"name": "head"}, "transform": [{"filter": "datum.col === 'se'"}], "mark": {"type": "text", "align": "right", "fontSize": 14, "fontWeight": "bold"}, "encoding": {"y": {"field": "row", "type": "quantitative", "scale": {"domain": [-4.847, 17.933], "reverse": true, "nice": false, "zero": false}, "axis": null}, "x": {"datum": "c", "type": "nominal", "scale": {"type": "point", "padding": 0, "align": 1}, "axis": null}, "text": {"field": "text", "type": "nominal"}}},
      {"data": {"name": "grp"}, "transform": [{"filter": "datum.col === 'se'"}], "mark": {"type": "text", "align": "center", "fontSize": 14, "fontWeight": "bold", "dx": -24}, "encoding": {"y": {"field": "row", "type": "quantitative", "scale": {"domain": [-4.847, 17.933], "reverse": true, "nice": false, "zero": false}, "axis": null}, "text": {"field": "text", "type": "nominal"}}},
      {"data": {"values": [{}]}, "mark": {"type": "rule", "color": "#333", "strokeWidth": 1.5}, "encoding": {"y": {"datum": -0.8, "type": "quantitative", "scale": {"domain": [-4.847, 17.933], "reverse": true, "nice": false, "zero": false}, "axis": null}}}
     ]},
    {"width": 46, "height": 431,
     "layer": [
      {"data": {"name": "B"}, "mark": {"type": "text", "align": "right", "fontSize": 14}, "encoding": {"y": {"field": "row", "type": "quantitative", "scale": {"domain": [-4.847, 17.933], "reverse": true, "nice": false, "zero": false}, "axis": null}, "x": {"datum": "c", "type": "nominal", "scale": {"type": "point", "padding": 0, "align": 1}, "axis": null}, "text": {"field": "ne", "type": "nominal"}}},
      {"data": {"name": "head"}, "transform": [{"filter": "datum.col === 'ne'"}], "mark": {"type": "text", "align": "right", "fontSize": 14, "fontWeight": "bold"}, "encoding": {"y": {"field": "row", "type": "quantitative", "scale": {"domain": [-4.847, 17.933], "reverse": true, "nice": false, "zero": false}, "axis": null}, "x": {"datum": "c", "type": "nominal", "scale": {"type": "point", "padding": 0, "align": 1}, "axis": null}, "text": {"field": "text", "type": "nominal"}}},
      {"data": {"name": "B_total"}, "mark": {"type": "text", "align": "right", "fontSize": 14, "fontWeight": "bold"}, "encoding": {"y": {"field": "row", "type": "quantitative", "scale": {"domain": [-4.847, 17.933], "reverse": true, "nice": false, "zero": false}, "axis": null}, "x": {"datum": "c", "type": "nominal", "scale": {"type": "point", "padding": 0, "align": 1}, "axis": null}, "text": {"field": "ne", "type": "nominal"}}},
      {"data": {"values": [{}]}, "mark": {"type": "rule", "color": "#333", "strokeWidth": 1.5}, "encoding": {"y": {"datum": -0.8, "type": "quantitative", "scale": {"domain": [-4.847, 17.933], "reverse": true, "nice": false, "zero": false}, "axis": null}}}
     ]},
    {"width": 96, "height": 431,
     "layer": [
      {"data": {"name": "B"}, "mark": {"type": "text", "align": "right", "fontSize": 14}, "encoding": {"y": {"field": "row", "type": "quantitative", "scale": {"domain": [-4.847, 17.933], "reverse": true, "nice": false, "zero": false}, "axis": null}, "x": {"datum": "c", "type": "nominal", "scale": {"type": "point", "padding": 0, "align": 1}, "axis": null}, "text": {"field": "mc", "type": "nominal"}}},
      {"data": {"name": "head"}, "transform": [{"filter": "datum.col === 'mc'"}], "mark": {"type": "text", "align": "right", "fontSize": 14, "fontWeight": "bold"}, "encoding": {"y": {"field": "row", "type": "quantitative", "scale": {"domain": [-4.847, 17.933], "reverse": true, "nice": false, "zero": false}, "axis": null}, "x": {"datum": "c", "type": "nominal", "scale": {"type": "point", "padding": 0, "align": 1}, "axis": null}, "text": {"field": "text", "type": "nominal"}}},
      {"data": {"values": [{}]}, "mark": {"type": "rule", "color": "#333", "strokeWidth": 1.5}, "encoding": {"y": {"datum": -0.8, "type": "quantitative", "scale": {"domain": [-4.847, 17.933], "reverse": true, "nice": false, "zero": false}, "axis": null}}}
     ]},
    {"width": 94, "height": 431,
     "layer": [
      {"data": {"name": "B"}, "mark": {"type": "text", "align": "right", "fontSize": 14}, "encoding": {"y": {"field": "row", "type": "quantitative", "scale": {"domain": [-4.847, 17.933], "reverse": true, "nice": false, "zero": false}, "axis": null}, "x": {"datum": "c", "type": "nominal", "scale": {"type": "point", "padding": 0, "align": 1}, "axis": null}, "text": {"field": "sc", "type": "nominal"}}},
      {"data": {"name": "head"}, "transform": [{"filter": "datum.col === 'sc'"}], "mark": {"type": "text", "align": "right", "fontSize": 14, "fontWeight": "bold"}, "encoding": {"y": {"field": "row", "type": "quantitative", "scale": {"domain": [-4.847, 17.933], "reverse": true, "nice": false, "zero": false}, "axis": null}, "x": {"datum": "c", "type": "nominal", "scale": {"type": "point", "padding": 0, "align": 1}, "axis": null}, "text": {"field": "text", "type": "nominal"}}},
      {"data": {"name": "grp"}, "transform": [{"filter": "datum.col === 'sc'"}], "mark": {"type": "text", "align": "center", "fontSize": 14, "fontWeight": "bold", "dx": -24}, "encoding": {"y": {"field": "row", "type": "quantitative", "scale": {"domain": [-4.847, 17.933], "reverse": true, "nice": false, "zero": false}, "axis": null}, "text": {"field": "text", "type": "nominal"}}},
      {"data": {"values": [{}]}, "mark": {"type": "rule", "color": "#333", "strokeWidth": 1.5}, "encoding": {"y": {"datum": -0.8, "type": "quantitative", "scale": {"domain": [-4.847, 17.933], "reverse": true, "nice": false, "zero": false}, "axis": null}}}
     ]},
    {"width": 45, "height": 431,
     "layer": [
      {"data": {"name": "B"}, "mark": {"type": "text", "align": "right", "fontSize": 14}, "encoding": {"y": {"field": "row", "type": "quantitative", "scale": {"domain": [-4.847, 17.933], "reverse": true, "nice": false, "zero": false}, "axis": null}, "x": {"datum": "c", "type": "nominal", "scale": {"type": "point", "padding": 0, "align": 1}, "axis": null}, "text": {"field": "nc", "type": "nominal"}}},
      {"data": {"name": "head"}, "transform": [{"filter": "datum.col === 'nc'"}], "mark": {"type": "text", "align": "right", "fontSize": 14, "fontWeight": "bold"}, "encoding": {"y": {"field": "row", "type": "quantitative", "scale": {"domain": [-4.847, 17.933], "reverse": true, "nice": false, "zero": false}, "axis": null}, "x": {"datum": "c", "type": "nominal", "scale": {"type": "point", "padding": 0, "align": 1}, "axis": null}, "text": {"field": "text", "type": "nominal"}}},
      {"data": {"name": "B_total"}, "mark": {"type": "text", "align": "right", "fontSize": 14, "fontWeight": "bold"}, "encoding": {"y": {"field": "row", "type": "quantitative", "scale": {"domain": [-4.847, 17.933], "reverse": true, "nice": false, "zero": false}, "axis": null}, "x": {"datum": "c", "type": "nominal", "scale": {"type": "point", "padding": 0, "align": 1}, "axis": null}, "text": {"field": "nc", "type": "nominal"}}},
      {"data": {"values": [{}]}, "mark": {"type": "rule", "color": "#333", "strokeWidth": 1.5}, "encoding": {"y": {"datum": -0.8, "type": "quantitative", "scale": {"domain": [-4.847, 17.933], "reverse": true, "nice": false, "zero": false}, "axis": null}}}
     ]},
    {"width": 58, "height": 431,
     "layer": [
      {"data": {"name": "B"}, "mark": {"type": "text", "align": "right", "fontSize": 14}, "encoding": {"y": {"field": "row", "type": "quantitative", "scale": {"domain": [-4.847, 17.933], "reverse": true, "nice": false, "zero": false}, "axis": null}, "x": {"datum": "c", "type": "nominal", "scale": {"type": "point", "padding": 0, "align": 1}, "axis": null}, "text": {"field": "w", "type": "quantitative", "format": ".1%"}}},
      {"data": {"name": "head"}, "transform": [{"filter": "datum.col === 'w'"}], "mark": {"type": "text", "align": "right", "fontSize": 14, "fontWeight": "bold"}, "encoding": {"y": {"field": "row", "type": "quantitative", "scale": {"domain": [-4.847, 17.933], "reverse": true, "nice": false, "zero": false}, "axis": null}, "x": {"datum": "c", "type": "nominal", "scale": {"type": "point", "padding": 0, "align": 1}, "axis": null}, "text": {"field": "text", "type": "nominal"}}},
      {"data": {"name": "B_total"}, "mark": {"type": "text", "align": "right", "fontSize": 14, "fontWeight": "bold"}, "encoding": {"y": {"field": "row", "type": "quantitative", "scale": {"domain": [-4.847, 17.933], "reverse": true, "nice": false, "zero": false}, "axis": null}, "x": {"datum": "c", "type": "nominal", "scale": {"type": "point", "padding": 0, "align": 1}, "axis": null}, "text": {"field": "w", "type": "quantitative", "format": ".1%"}}},
      {"data": {"values": [{}]}, "mark": {"type": "rule", "color": "#333", "strokeWidth": 1.5}, "encoding": {"y": {"datum": -0.8, "type": "quantitative", "scale": {"domain": [-4.847, 17.933], "reverse": true, "nice": false, "zero": false}, "axis": null}}}
     ]},
    {"width": 154, "height": 431,
     "layer": [
      {"data": {"name": "B"}, "mark": {"type": "text", "align": "right", "fontSize": 14}, "encoding": {"y": {"field": "row", "type": "quantitative", "scale": {"domain": [-4.847, 17.933], "reverse": true, "nice": false, "zero": false}, "axis": null}, "x": {"datum": "c", "type": "nominal", "scale": {"type": "point", "padding": 0, "align": 1}, "axis": null}, "text": {"field": "ci", "type": "nominal"}}},
      {"data": {"name": "head"}, "transform": [{"filter": "datum.col === 'ci'"}], "mark": {"type": "text", "align": "right", "fontSize": 14, "fontWeight": "bold"}, "encoding": {"y": {"field": "row", "type": "quantitative", "scale": {"domain": [-4.847, 17.933], "reverse": true, "nice": false, "zero": false}, "axis": null}, "x": {"datum": "c", "type": "nominal", "scale": {"type": "point", "padding": 0, "align": 1}, "axis": null}, "text": {"field": "text", "type": "nominal"}}},
      {"data": {"name": "B_total"}, "mark": {"type": "text", "align": "right", "fontSize": 14, "fontWeight": "bold"}, "encoding": {"y": {"field": "row", "type": "quantitative", "scale": {"domain": [-4.847, 17.933], "reverse": true, "nice": false, "zero": false}, "axis": null}, "x": {"datum": "c", "type": "nominal", "scale": {"type": "point", "padding": 0, "align": 1}, "axis": null}, "text": {"field": "ci", "type": "nominal"}}},
      {"data": {"name": "grp"}, "transform": [{"filter": "datum.col === 'ci'"}], "mark": {"type": "text", "align": "center", "fontSize": 14, "fontWeight": "bold", "dx": 2}, "encoding": {"y": {"field": "row", "type": "quantitative", "scale": {"domain": [-4.847, 17.933], "reverse": true, "nice": false, "zero": false}, "axis": null}, "text": {"field": "text", "type": "nominal"}}},
      {"data": {"values": [{}]}, "mark": {"type": "rule", "color": "#333", "strokeWidth": 1.5}, "encoding": {"y": {"datum": -0.8, "type": "quantitative", "scale": {"domain": [-4.847, 17.933], "reverse": true, "nice": false, "zero": false}, "axis": null}}}
     ]},
    {"width": 10, "height": 431, "data": {"values": [{}]}, "mark": {"type": "rule", "color": "#333", "strokeWidth": 1.5},
     "encoding": {"y": {"datum": -0.8, "type": "quantitative", "scale": {"domain": [-4.847, 17.933], "reverse": true, "nice": false, "zero": false}, "axis": null}}},
    {"width": 374, "height": 431,
     "layer": [
      {"data": {"values": [{}]}, "mark": {"type": "rule", "color": "#333", "strokeWidth": 1.5}, "encoding": {"y": {"datum": -0.8, "type": "quantitative", "scale": {"domain": [-4.847, 17.933], "reverse": true, "nice": false, "zero": false}, "axis": null}}},
      {"data": {"values": [{}]}, "mark": {"type": "rule", "color": "#444", "strokeWidth": 1.3},
       "encoding": {"x": {"datum": 0, "type": "quantitative", "scale": {"domain": [-17.8, 17.8], "nice": false, "zero": false},
                          "axis": {"values": [-10, -5, 0, 5, 10], "title": null, "offset": -42, "domain": true, "domainWidth": 1.5, "domainColor": "#333", "ticks": true, "tickSize": 4, "tickWidth": 1.5, "tickColor": "#333", "labelFontSize": 14.5, "labelPadding": 2, "labelFlush": false, "labelOverlap": false, "grid": false, "labelExpr": "replace(datum.label, '−', '-')"}},
                    "y": {"datum": -0.8, "type": "quantitative", "scale": {"domain": [-4.847, 17.933], "reverse": true, "nice": false, "zero": false}, "axis": null},
                    "y2": {"datum": 15.714}}},
      {"data": {"name": "B"}, "mark": {"type": "rule", "color": "#333", "strokeWidth": 1.5}, "encoding": {"y": {"field": "row", "type": "quantitative", "scale": {"domain": [-4.847, 17.933], "reverse": true, "nice": false, "zero": false}, "axis": null}, "x": {"field": "lo", "type": "quantitative", "scale": {"domain": [-17.8, 17.8], "nice": false, "zero": false}, "axis": {"values": [-10, -5, 0, 5, 10], "title": null, "offset": -42, "domain": true, "domainWidth": 1.5, "domainColor": "#333", "ticks": true, "tickSize": 4, "tickWidth": 1.5, "tickColor": "#333", "labelFontSize": 14.5, "labelPadding": 2, "labelFlush": false, "labelOverlap": false, "grid": false, "labelExpr": "replace(datum.label, '−', '-')"}}, "x2": {"field": "hi"}}},
      {"data": {"name": "B"}, "mark": {"type": "point", "shape": "square", "filled": true, "opacity": 1, "color": "#3bb54a"}, "encoding": {"y": {"field": "row", "type": "quantitative", "scale": {"domain": [-4.847, 17.933], "reverse": true, "nice": false, "zero": false}, "axis": null}, "x": {"field": "smd", "type": "quantitative", "scale": {"domain": [-17.8, 17.8], "nice": false, "zero": false}, "axis": {"values": [-10, -5, 0, 5, 10], "title": null, "offset": -42, "domain": true, "domainWidth": 1.5, "domainColor": "#333", "ticks": true, "tickSize": 4, "tickWidth": 1.5, "tickColor": "#333", "labelFontSize": 14.5, "labelPadding": 2, "labelFlush": false, "labelOverlap": false, "grid": false, "labelExpr": "replace(datum.label, '−', '-')"}}, "size": {"field": "w", "type": "quantitative", "scale": {"domain": [0, 0.3], "range": [0, 65]}, "legend": null}}},
      {"data": {"name": "B_total"}, "mark": {"type": "point", "shape": "M-1,0L0,-1.44L1,0L0,1.44Z", "filled": true, "opacity": 1, "color": "#000", "size": 94}, "encoding": {"y": {"field": "row", "type": "quantitative", "scale": {"domain": [-4.847, 17.933], "reverse": true, "nice": false, "zero": false}, "axis": null}, "x": {"field": "smd", "type": "quantitative", "scale": {"domain": [-17.8, 17.8], "nice": false, "zero": false}, "axis": {"values": [-10, -5, 0, 5, 10], "title": null, "offset": -42, "domain": true, "domainWidth": 1.5, "domainColor": "#333", "ticks": true, "tickSize": 4, "tickWidth": 1.5, "tickColor": "#333", "labelFontSize": 14.5, "labelPadding": 2, "labelFlush": false, "labelOverlap": false, "grid": false, "labelExpr": "replace(datum.label, '−', '-')"}}}},
      {"data": {"name": "grp"}, "transform": [{"filter": "datum.col === 'forest'"}], "mark": {"type": "text", "align": "center", "fontSize": 14, "fontWeight": "bold"}, "encoding": {"y": {"field": "row", "type": "quantitative", "scale": {"domain": [-4.847, 17.933], "reverse": true, "nice": false, "zero": false}, "axis": null}, "text": {"field": "text", "type": "nominal"}}},
      {"data": {"values": [{}]}, "mark": {"type": "text", "align": "right", "dx": -7.5, "fontSize": 14}, "encoding": {"x": {"datum": 0, "type": "quantitative", "scale": {"domain": [-17.8, 17.8], "nice": false, "zero": false}, "axis": {"values": [-10, -5, 0, 5, 10], "title": null, "offset": -42, "domain": true, "domainWidth": 1.5, "domainColor": "#333", "ticks": true, "tickSize": 4, "tickWidth": 1.5, "tickColor": "#333", "labelFontSize": 14.5, "labelPadding": 2, "labelFlush": false, "labelOverlap": false, "grid": false, "labelExpr": "replace(datum.label, '−', '-')"}}, "y": {"datum": 17.46, "type": "quantitative", "scale": {"domain": [-4.847, 17.933], "reverse": true, "nice": false, "zero": false}, "axis": null}, "text": {"value": "Favours [experimental]"}}},
      {"data": {"values": [{}]}, "mark": {"type": "text", "align": "left", "dx": 7.5, "fontSize": 14}, "encoding": {"x": {"datum": 0, "type": "quantitative", "scale": {"domain": [-17.8, 17.8], "nice": false, "zero": false}, "axis": {"values": [-10, -5, 0, 5, 10], "title": null, "offset": -42, "domain": true, "domainWidth": 1.5, "domainColor": "#333", "ticks": true, "tickSize": 4, "tickWidth": 1.5, "tickColor": "#333", "labelFontSize": 14.5, "labelPadding": 2, "labelFlush": false, "labelOverlap": false, "grid": false, "labelExpr": "replace(datum.label, '−', '-')"}}, "y": {"datum": 17.46, "type": "quantitative", "scale": {"domain": [-4.847, 17.933], "reverse": true, "nice": false, "zero": false}, "axis": null}, "text": {"value": "Favours [control]"}}}
     ]},
    {"width": 13, "height": 431, "data": {"values": [{}]}, "mark": {"type": "rule", "color": "#333", "strokeWidth": 1.5},
     "encoding": {"y": {"datum": -0.8, "type": "quantitative", "scale": {"domain": [-4.847, 17.933], "reverse": true, "nice": false, "zero": false}, "axis": null}}}
  ]
},
{
  "spacing": 0, "bounds": "flush",
  "hconcat": [
    {"width": 31, "height": 235, "data": {"values": [{}]}, "mark": {"type": "text", "align": "left", "fontSize": 28, "fontWeight": "bold", "color": "#000"},
     "encoding": {"x": {"datum": "c", "type": "nominal", "scale": {"type": "point", "padding": 0, "align": 0}, "axis": null}, "y": {"datum": -2.3, "type": "quantitative", "scale": {"domain": [-4.255, 8.851], "reverse": true, "nice": false, "zero": false}, "axis": null}, "text": {"value": "C"}}},
    {"width": 266, "height": 235,
     "layer": [
      {"data": {"name": "C"}, "mark": {"type": "text", "align": "left", "fontSize": 13.4}, "encoding": {"y": {"field": "row", "type": "quantitative", "scale": {"domain": [-4.255, 8.851], "reverse": true, "nice": false, "zero": false}, "axis": null}, "x": {"datum": "c", "type": "nominal", "scale": {"type": "point", "padding": 0, "align": 0}, "axis": null}, "text": {"field": "study", "type": "nominal"}}},
      {"data": {"name": "head"}, "transform": [{"filter": "datum.col === 'study'"}], "mark": {"type": "text", "align": "left", "fontSize": 13.4, "fontWeight": "bold"}, "encoding": {"y": {"field": "row", "type": "quantitative", "scale": {"domain": [-4.255, 8.851], "reverse": true, "nice": false, "zero": false}, "axis": null}, "x": {"datum": "c", "type": "nominal", "scale": {"type": "point", "padding": 0, "align": 0}, "axis": null}, "text": {"field": "text", "type": "nominal"}}},
      {"data": {"name": "C_total"}, "mark": {"type": "text", "align": "left", "fontSize": 13.4, "fontWeight": "bold"}, "encoding": {"y": {"field": "row", "type": "quantitative", "scale": {"domain": [-4.255, 8.851], "reverse": true, "nice": false, "zero": false}, "axis": null}, "x": {"datum": "c", "type": "nominal", "scale": {"type": "point", "padding": 0, "align": 0}, "axis": null}, "text": {"field": "label", "type": "nominal"}}},
      {"data": {"name": "C_notes"}, "mark": {"type": "text", "align": "left", "fontSize": 13.4}, "encoding": {"y": {"field": "row", "type": "quantitative", "scale": {"domain": [-4.255, 8.851], "reverse": true, "nice": false, "zero": false}, "axis": null}, "x": {"datum": "c", "type": "nominal", "scale": {"type": "point", "padding": 0, "align": 0}, "axis": null}, "text": {"field": "text", "type": "nominal"}}},
      {"data": {"values": [{}]}, "mark": {"type": "rule", "color": "#333", "strokeWidth": 1.5}, "encoding": {"y": {"datum": -0.75, "type": "quantitative", "scale": {"domain": [-4.255, 8.851], "reverse": true, "nice": false, "zero": false}, "axis": null}}}
     ]},
    {"width": 78, "height": 235,
     "layer": [
      {"data": {"name": "C"}, "mark": {"type": "text", "align": "right", "fontSize": 13.4}, "encoding": {"y": {"field": "row", "type": "quantitative", "scale": {"domain": [-4.255, 8.851], "reverse": true, "nice": false, "zero": false}, "axis": null}, "x": {"datum": "c", "type": "nominal", "scale": {"type": "point", "padding": 0, "align": 1}, "axis": null}, "text": {"field": "me", "type": "nominal"}}},
      {"data": {"name": "head"}, "transform": [{"filter": "datum.col === 'me'"}], "mark": {"type": "text", "align": "right", "fontSize": 13.4, "fontWeight": "bold"}, "encoding": {"y": {"field": "row", "type": "quantitative", "scale": {"domain": [-4.255, 8.851], "reverse": true, "nice": false, "zero": false}, "axis": null}, "x": {"datum": "c", "type": "nominal", "scale": {"type": "point", "padding": 0, "align": 1}, "axis": null}, "text": {"field": "text", "type": "nominal"}}},
      {"data": {"values": [{}]}, "mark": {"type": "rule", "color": "#333", "strokeWidth": 1.5}, "encoding": {"y": {"datum": -0.75, "type": "quantitative", "scale": {"domain": [-4.255, 8.851], "reverse": true, "nice": false, "zero": false}, "axis": null}}}
     ]},
    {"width": 89, "height": 235,
     "layer": [
      {"data": {"name": "C"}, "mark": {"type": "text", "align": "right", "fontSize": 13.4}, "encoding": {"y": {"field": "row", "type": "quantitative", "scale": {"domain": [-4.255, 8.851], "reverse": true, "nice": false, "zero": false}, "axis": null}, "x": {"datum": "c", "type": "nominal", "scale": {"type": "point", "padding": 0, "align": 1}, "axis": null}, "text": {"field": "se", "type": "nominal"}}},
      {"data": {"name": "head"}, "transform": [{"filter": "datum.col === 'se'"}], "mark": {"type": "text", "align": "right", "fontSize": 13.4, "fontWeight": "bold"}, "encoding": {"y": {"field": "row", "type": "quantitative", "scale": {"domain": [-4.255, 8.851], "reverse": true, "nice": false, "zero": false}, "axis": null}, "x": {"datum": "c", "type": "nominal", "scale": {"type": "point", "padding": 0, "align": 1}, "axis": null}, "text": {"field": "text", "type": "nominal"}}},
      {"data": {"name": "grp"}, "transform": [{"filter": "datum.col === 'se'"}], "mark": {"type": "text", "align": "center", "fontSize": 13.4, "fontWeight": "bold", "dx": -22}, "encoding": {"y": {"field": "row", "type": "quantitative", "scale": {"domain": [-4.255, 8.851], "reverse": true, "nice": false, "zero": false}, "axis": null}, "text": {"field": "text", "type": "nominal"}}},
      {"data": {"values": [{}]}, "mark": {"type": "rule", "color": "#333", "strokeWidth": 1.5}, "encoding": {"y": {"datum": -0.75, "type": "quantitative", "scale": {"domain": [-4.255, 8.851], "reverse": true, "nice": false, "zero": false}, "axis": null}}}
     ]},
    {"width": 44, "height": 235,
     "layer": [
      {"data": {"name": "C"}, "mark": {"type": "text", "align": "right", "fontSize": 13.4}, "encoding": {"y": {"field": "row", "type": "quantitative", "scale": {"domain": [-4.255, 8.851], "reverse": true, "nice": false, "zero": false}, "axis": null}, "x": {"datum": "c", "type": "nominal", "scale": {"type": "point", "padding": 0, "align": 1}, "axis": null}, "text": {"field": "ne", "type": "nominal"}}},
      {"data": {"name": "head"}, "transform": [{"filter": "datum.col === 'ne'"}], "mark": {"type": "text", "align": "right", "fontSize": 13.4, "fontWeight": "bold"}, "encoding": {"y": {"field": "row", "type": "quantitative", "scale": {"domain": [-4.255, 8.851], "reverse": true, "nice": false, "zero": false}, "axis": null}, "x": {"datum": "c", "type": "nominal", "scale": {"type": "point", "padding": 0, "align": 1}, "axis": null}, "text": {"field": "text", "type": "nominal"}}},
      {"data": {"name": "C_total"}, "mark": {"type": "text", "align": "right", "fontSize": 13.4, "fontWeight": "bold"}, "encoding": {"y": {"field": "row", "type": "quantitative", "scale": {"domain": [-4.255, 8.851], "reverse": true, "nice": false, "zero": false}, "axis": null}, "x": {"datum": "c", "type": "nominal", "scale": {"type": "point", "padding": 0, "align": 1}, "axis": null}, "text": {"field": "ne", "type": "nominal"}}},
      {"data": {"values": [{}]}, "mark": {"type": "rule", "color": "#333", "strokeWidth": 1.5}, "encoding": {"y": {"datum": -0.75, "type": "quantitative", "scale": {"domain": [-4.255, 8.851], "reverse": true, "nice": false, "zero": false}, "axis": null}}}
     ]},
    {"width": 89, "height": 235,
     "layer": [
      {"data": {"name": "C"}, "mark": {"type": "text", "align": "right", "fontSize": 13.4}, "encoding": {"y": {"field": "row", "type": "quantitative", "scale": {"domain": [-4.255, 8.851], "reverse": true, "nice": false, "zero": false}, "axis": null}, "x": {"datum": "c", "type": "nominal", "scale": {"type": "point", "padding": 0, "align": 1}, "axis": null}, "text": {"field": "mc", "type": "nominal"}}},
      {"data": {"name": "head"}, "transform": [{"filter": "datum.col === 'mc'"}], "mark": {"type": "text", "align": "right", "fontSize": 13.4, "fontWeight": "bold"}, "encoding": {"y": {"field": "row", "type": "quantitative", "scale": {"domain": [-4.255, 8.851], "reverse": true, "nice": false, "zero": false}, "axis": null}, "x": {"datum": "c", "type": "nominal", "scale": {"type": "point", "padding": 0, "align": 1}, "axis": null}, "text": {"field": "text", "type": "nominal"}}},
      {"data": {"values": [{}]}, "mark": {"type": "rule", "color": "#333", "strokeWidth": 1.5}, "encoding": {"y": {"datum": -0.75, "type": "quantitative", "scale": {"domain": [-4.255, 8.851], "reverse": true, "nice": false, "zero": false}, "axis": null}}}
     ]},
    {"width": 90, "height": 235,
     "layer": [
      {"data": {"name": "C"}, "mark": {"type": "text", "align": "right", "fontSize": 13.4}, "encoding": {"y": {"field": "row", "type": "quantitative", "scale": {"domain": [-4.255, 8.851], "reverse": true, "nice": false, "zero": false}, "axis": null}, "x": {"datum": "c", "type": "nominal", "scale": {"type": "point", "padding": 0, "align": 1}, "axis": null}, "text": {"field": "sc", "type": "nominal"}}},
      {"data": {"name": "head"}, "transform": [{"filter": "datum.col === 'sc'"}], "mark": {"type": "text", "align": "right", "fontSize": 13.4, "fontWeight": "bold"}, "encoding": {"y": {"field": "row", "type": "quantitative", "scale": {"domain": [-4.255, 8.851], "reverse": true, "nice": false, "zero": false}, "axis": null}, "x": {"datum": "c", "type": "nominal", "scale": {"type": "point", "padding": 0, "align": 1}, "axis": null}, "text": {"field": "text", "type": "nominal"}}},
      {"data": {"name": "grp"}, "transform": [{"filter": "datum.col === 'sc'"}], "mark": {"type": "text", "align": "center", "fontSize": 13.4, "fontWeight": "bold", "dx": -22}, "encoding": {"y": {"field": "row", "type": "quantitative", "scale": {"domain": [-4.255, 8.851], "reverse": true, "nice": false, "zero": false}, "axis": null}, "text": {"field": "text", "type": "nominal"}}},
      {"data": {"values": [{}]}, "mark": {"type": "rule", "color": "#333", "strokeWidth": 1.5}, "encoding": {"y": {"datum": -0.75, "type": "quantitative", "scale": {"domain": [-4.255, 8.851], "reverse": true, "nice": false, "zero": false}, "axis": null}}}
     ]},
    {"width": 41, "height": 235,
     "layer": [
      {"data": {"name": "C"}, "mark": {"type": "text", "align": "right", "fontSize": 13.4}, "encoding": {"y": {"field": "row", "type": "quantitative", "scale": {"domain": [-4.255, 8.851], "reverse": true, "nice": false, "zero": false}, "axis": null}, "x": {"datum": "c", "type": "nominal", "scale": {"type": "point", "padding": 0, "align": 1}, "axis": null}, "text": {"field": "nc", "type": "nominal"}}},
      {"data": {"name": "head"}, "transform": [{"filter": "datum.col === 'nc'"}], "mark": {"type": "text", "align": "right", "fontSize": 13.4, "fontWeight": "bold"}, "encoding": {"y": {"field": "row", "type": "quantitative", "scale": {"domain": [-4.255, 8.851], "reverse": true, "nice": false, "zero": false}, "axis": null}, "x": {"datum": "c", "type": "nominal", "scale": {"type": "point", "padding": 0, "align": 1}, "axis": null}, "text": {"field": "text", "type": "nominal"}}},
      {"data": {"name": "C_total"}, "mark": {"type": "text", "align": "right", "fontSize": 13.4, "fontWeight": "bold"}, "encoding": {"y": {"field": "row", "type": "quantitative", "scale": {"domain": [-4.255, 8.851], "reverse": true, "nice": false, "zero": false}, "axis": null}, "x": {"datum": "c", "type": "nominal", "scale": {"type": "point", "padding": 0, "align": 1}, "axis": null}, "text": {"field": "nc", "type": "nominal"}}},
      {"data": {"values": [{}]}, "mark": {"type": "rule", "color": "#333", "strokeWidth": 1.5}, "encoding": {"y": {"datum": -0.75, "type": "quantitative", "scale": {"domain": [-4.255, 8.851], "reverse": true, "nice": false, "zero": false}, "axis": null}}}
     ]},
    {"width": 57, "height": 235,
     "layer": [
      {"data": {"name": "C"}, "mark": {"type": "text", "align": "right", "fontSize": 13.4}, "encoding": {"y": {"field": "row", "type": "quantitative", "scale": {"domain": [-4.255, 8.851], "reverse": true, "nice": false, "zero": false}, "axis": null}, "x": {"datum": "c", "type": "nominal", "scale": {"type": "point", "padding": 0, "align": 1}, "axis": null}, "text": {"field": "w", "type": "quantitative", "format": ".1%"}}},
      {"data": {"name": "head"}, "transform": [{"filter": "datum.col === 'w'"}], "mark": {"type": "text", "align": "right", "fontSize": 13.4, "fontWeight": "bold"}, "encoding": {"y": {"field": "row", "type": "quantitative", "scale": {"domain": [-4.255, 8.851], "reverse": true, "nice": false, "zero": false}, "axis": null}, "x": {"datum": "c", "type": "nominal", "scale": {"type": "point", "padding": 0, "align": 1}, "axis": null}, "text": {"field": "text", "type": "nominal"}}},
      {"data": {"name": "C_total"}, "mark": {"type": "text", "align": "right", "fontSize": 13.4, "fontWeight": "bold"}, "encoding": {"y": {"field": "row", "type": "quantitative", "scale": {"domain": [-4.255, 8.851], "reverse": true, "nice": false, "zero": false}, "axis": null}, "x": {"datum": "c", "type": "nominal", "scale": {"type": "point", "padding": 0, "align": 1}, "axis": null}, "text": {"field": "w", "type": "quantitative", "format": ".1%"}}},
      {"data": {"values": [{}]}, "mark": {"type": "rule", "color": "#333", "strokeWidth": 1.5}, "encoding": {"y": {"datum": -0.75, "type": "quantitative", "scale": {"domain": [-4.255, 8.851], "reverse": true, "nice": false, "zero": false}, "axis": null}}}
     ]},
    {"width": 142, "height": 235,
     "layer": [
      {"data": {"name": "C"}, "mark": {"type": "text", "align": "right", "fontSize": 13.4}, "encoding": {"y": {"field": "row", "type": "quantitative", "scale": {"domain": [-4.255, 8.851], "reverse": true, "nice": false, "zero": false}, "axis": null}, "x": {"datum": "c", "type": "nominal", "scale": {"type": "point", "padding": 0, "align": 1}, "axis": null}, "text": {"field": "ci", "type": "nominal"}}},
      {"data": {"name": "head"}, "transform": [{"filter": "datum.col === 'ci'"}], "mark": {"type": "text", "align": "right", "fontSize": 13.4, "fontWeight": "bold"}, "encoding": {"y": {"field": "row", "type": "quantitative", "scale": {"domain": [-4.255, 8.851], "reverse": true, "nice": false, "zero": false}, "axis": null}, "x": {"datum": "c", "type": "nominal", "scale": {"type": "point", "padding": 0, "align": 1}, "axis": null}, "text": {"field": "text", "type": "nominal"}}},
      {"data": {"name": "C_total"}, "mark": {"type": "text", "align": "right", "fontSize": 13.4, "fontWeight": "bold"}, "encoding": {"y": {"field": "row", "type": "quantitative", "scale": {"domain": [-4.255, 8.851], "reverse": true, "nice": false, "zero": false}, "axis": null}, "x": {"datum": "c", "type": "nominal", "scale": {"type": "point", "padding": 0, "align": 1}, "axis": null}, "text": {"field": "ci", "type": "nominal"}}},
      {"data": {"name": "grp"}, "transform": [{"filter": "datum.col === 'ci'"}], "mark": {"type": "text", "align": "center", "fontSize": 13.4, "fontWeight": "bold", "dx": 2}, "encoding": {"y": {"field": "row", "type": "quantitative", "scale": {"domain": [-4.255, 8.851], "reverse": true, "nice": false, "zero": false}, "axis": null}, "text": {"field": "text", "type": "nominal"}}},
      {"data": {"values": [{}]}, "mark": {"type": "rule", "color": "#333", "strokeWidth": 1.5}, "encoding": {"y": {"datum": -0.75, "type": "quantitative", "scale": {"domain": [-4.255, 8.851], "reverse": true, "nice": false, "zero": false}, "axis": null}}}
     ]},
    {"width": 13, "height": 235, "data": {"values": [{}]}, "mark": {"type": "rule", "color": "#333", "strokeWidth": 1.5},
     "encoding": {"y": {"datum": -0.75, "type": "quantitative", "scale": {"domain": [-4.255, 8.851], "reverse": true, "nice": false, "zero": false}, "axis": null}}},
    {"width": 355, "height": 235,
     "layer": [
      {"data": {"values": [{}]}, "mark": {"type": "rule", "color": "#333", "strokeWidth": 1.5}, "encoding": {"y": {"datum": -0.75, "type": "quantitative", "scale": {"domain": [-4.255, 8.851], "reverse": true, "nice": false, "zero": false}, "axis": null}}},
      {"data": {"values": [{}]}, "mark": {"type": "rule", "color": "#444", "strokeWidth": 1.3},
       "encoding": {"x": {"datum": 0, "type": "quantitative", "scale": {"domain": [-25.7, 25.7], "nice": false, "zero": false},
                          "axis": {"values": [-20, -10, 0, 10, 20], "title": null, "offset": -39, "domain": true, "domainWidth": 1.5, "domainColor": "#333", "ticks": true, "tickSize": 4, "tickWidth": 1.5, "tickColor": "#333", "labelFontSize": 14, "labelPadding": 3, "labelFlush": false, "labelOverlap": false, "grid": false, "labelExpr": "replace(datum.label, '−', '-')"}},
                    "y": {"datum": -0.75, "type": "quantitative", "scale": {"domain": [-4.255, 8.851], "reverse": true, "nice": false, "zero": false}, "axis": null},
                    "y2": {"datum": 6.676}}},
      {"data": {"name": "C"}, "mark": {"type": "rule", "color": "#333", "strokeWidth": 1.5}, "encoding": {"y": {"field": "row", "type": "quantitative", "scale": {"domain": [-4.255, 8.851], "reverse": true, "nice": false, "zero": false}, "axis": null}, "x": {"field": "lo", "type": "quantitative", "scale": {"domain": [-25.7, 25.7], "nice": false, "zero": false}, "axis": {"values": [-20, -10, 0, 10, 20], "title": null, "offset": -39, "domain": true, "domainWidth": 1.5, "domainColor": "#333", "ticks": true, "tickSize": 4, "tickWidth": 1.5, "tickColor": "#333", "labelFontSize": 14, "labelPadding": 3, "labelFlush": false, "labelOverlap": false, "grid": false, "labelExpr": "replace(datum.label, '−', '-')"}}, "x2": {"field": "hi"}}},
      {"data": {"name": "C"}, "mark": {"type": "point", "shape": "square", "filled": true, "opacity": 1, "color": "#3bb54a"}, "encoding": {"y": {"field": "row", "type": "quantitative", "scale": {"domain": [-4.255, 8.851], "reverse": true, "nice": false, "zero": false}, "axis": null}, "x": {"field": "smd", "type": "quantitative", "scale": {"domain": [-25.7, 25.7], "nice": false, "zero": false}, "axis": {"values": [-20, -10, 0, 10, 20], "title": null, "offset": -39, "domain": true, "domainWidth": 1.5, "domainColor": "#333", "ticks": true, "tickSize": 4, "tickWidth": 1.5, "tickColor": "#333", "labelFontSize": 14, "labelPadding": 3, "labelFlush": false, "labelOverlap": false, "grid": false, "labelExpr": "replace(datum.label, '−', '-')"}}, "size": {"field": "w", "type": "quantitative", "scale": {"domain": [0, 0.3], "range": [0, 65]}, "legend": null}}},
      {"data": {"name": "C_total"}, "mark": {"type": "point", "shape": "M-1,0L0,-0.44L1,0L0,0.44Z", "filled": true, "opacity": 1, "color": "#000", "size": 1325}, "encoding": {"y": {"field": "row", "type": "quantitative", "scale": {"domain": [-4.255, 8.851], "reverse": true, "nice": false, "zero": false}, "axis": null}, "x": {"field": "smd", "type": "quantitative", "scale": {"domain": [-25.7, 25.7], "nice": false, "zero": false}, "axis": {"values": [-20, -10, 0, 10, 20], "title": null, "offset": -39, "domain": true, "domainWidth": 1.5, "domainColor": "#333", "ticks": true, "tickSize": 4, "tickWidth": 1.5, "tickColor": "#333", "labelFontSize": 14, "labelPadding": 3, "labelFlush": false, "labelOverlap": false, "grid": false, "labelExpr": "replace(datum.label, '−', '-')"}}}},
      {"data": {"name": "grp"}, "transform": [{"filter": "datum.col === 'forest'"}], "mark": {"type": "text", "align": "center", "fontSize": 13.4, "fontWeight": "bold"}, "encoding": {"y": {"field": "row", "type": "quantitative", "scale": {"domain": [-4.255, 8.851], "reverse": true, "nice": false, "zero": false}, "axis": null}, "text": {"field": "text", "type": "nominal"}}},
      {"data": {"values": [{}]}, "mark": {"type": "text", "align": "right", "dx": -10, "fontSize": 13.2}, "encoding": {"x": {"datum": 0, "type": "quantitative", "scale": {"domain": [-25.7, 25.7], "nice": false, "zero": false}, "axis": {"values": [-20, -10, 0, 10, 20], "title": null, "offset": -39, "domain": true, "domainWidth": 1.5, "domainColor": "#333", "ticks": true, "tickSize": 4, "tickWidth": 1.5, "tickColor": "#333", "labelFontSize": 14, "labelPadding": 3, "labelFlush": false, "labelOverlap": false, "grid": false, "labelExpr": "replace(datum.label, '−', '-')"}}, "y": {"datum": 8.35, "type": "quantitative", "scale": {"domain": [-4.255, 8.851], "reverse": true, "nice": false, "zero": false}, "axis": null}, "text": {"value": "Favours [experimental]"}}},
      {"data": {"values": [{}]}, "mark": {"type": "text", "align": "left", "dx": 6, "fontSize": 13.2}, "encoding": {"x": {"datum": 0, "type": "quantitative", "scale": {"domain": [-25.7, 25.7], "nice": false, "zero": false}, "axis": {"values": [-20, -10, 0, 10, 20], "title": null, "offset": -39, "domain": true, "domainWidth": 1.5, "domainColor": "#333", "ticks": true, "tickSize": 4, "tickWidth": 1.5, "tickColor": "#333", "labelFontSize": 14, "labelPadding": 3, "labelFlush": false, "labelOverlap": false, "grid": false, "labelExpr": "replace(datum.label, '−', '-')"}}, "y": {"datum": 8.35, "type": "quantitative", "scale": {"domain": [-4.255, 8.851], "reverse": true, "nice": false, "zero": false}, "axis": null}, "text": {"value": "Favours [control]"}}}
     ]},
    {"width": 12, "height": 235, "data": {"values": [{}]}, "mark": {"type": "rule", "color": "#333", "strokeWidth": 1.5},
     "encoding": {"y": {"datum": -0.75, "type": "quantitative", "scale": {"domain": [-4.255, 8.851], "reverse": true, "nice": false, "zero": false}, "axis": null}}}
  ]
}
]
}
